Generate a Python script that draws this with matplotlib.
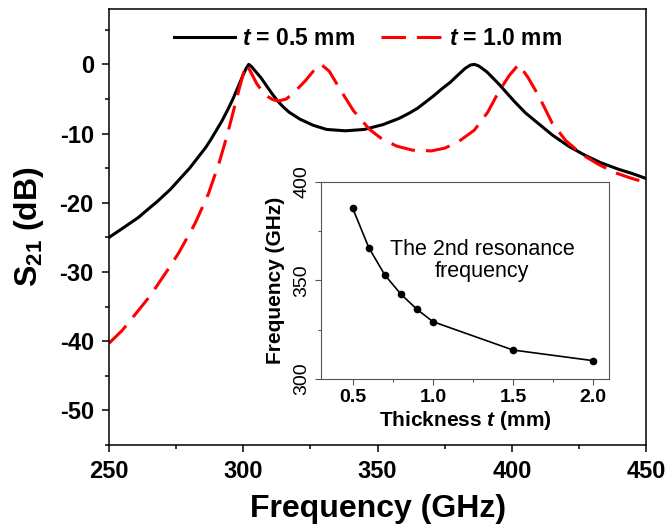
import numpy as np
import matplotlib
matplotlib.use("Agg")
import matplotlib.pyplot as plt
from matplotlib.ticker import MultipleLocator

# S21 spectra (GHz, dB)
freq_05 = [250, 255, 258, 261, 264, 268, 273, 276, 280, 283, 286, 288, 290, 292,
           294, 296, 298, 299.5, 301, 302, 303, 304.5, 306.5, 309, 311, 313, 315,
           317, 321, 326, 331, 338, 345, 352, 358, 362, 365, 368, 371, 374, 377,
           380, 382.5, 384.5, 386, 387.5, 389, 390.7, 393, 395.5, 398, 401, 405,
           410, 415, 421, 427, 433, 440, 445, 450]
s21_05 = [-25.0, -23.7, -22.9, -22.1, -21.1, -19.8, -18.0, -16.7, -15.0, -13.5,
          -12.0, -10.8, -9.5, -8.2, -6.7, -5.1, -3.3, -1.9, -0.6, 0.0, -0.3,
          -1.0, -1.9, -3.3, -4.4, -5.4, -6.2, -6.9, -7.9, -8.8, -9.4, -9.6, -9.4,
          -8.7, -7.8, -7.0, -6.3, -5.4, -4.5, -3.5, -2.6, -1.5, -0.6, -0.1, 0.0,
          -0.2, -0.6, -1.1, -2.0, -3.0, -4.1, -5.4, -7.0, -8.6, -10.2, -11.8,
          -13.1, -14.2, -15.2, -15.8, -16.5]

freq_10 = [250, 255, 260, 265, 268, 272, 276, 282, 287, 291, 294, 296, 298, 300,
           301, 302.5, 305, 308, 311, 313, 316, 319, 323, 326, 329, 332, 336, 341,
           347, 351, 357, 363, 370, 375, 380, 386, 391, 395, 399, 402.5, 406, 410,
           415, 420, 426, 432, 438, 444, 450]
s21_10 = [-40.3, -38.4, -36.0, -33.6, -31.9, -29.6, -27.2, -23.0, -18.7, -14.2,
          -10.2, -7.2, -4.2, -1.3, 0.0, -0.9, -2.8, -4.4, -5.1, -5.3, -5.0, -4.0,
          -2.4, -1.0, 0.0, -1.0, -3.6, -6.7, -9.4, -10.6, -11.8, -12.4, -12.5,
          -12.1, -11.2, -9.5, -6.9, -4.0, -1.6, 0.0, -1.9, -4.6, -8.5, -11.0,
          -13.0, -14.4, -15.6, -16.4, -17.1]

# inset: 2nd resonance vs thickness
thickness = [0.5, 0.6, 0.7, 0.8, 0.9, 1.0, 1.5, 2.0]
res2 = [386.6, 366.7, 352.8, 343.1, 335.4, 329.1, 314.7, 309.3]

plt.rcParams['font.family'] = ['Liberation Sans', 'DejaVu Sans']
plt.rcParams['mathtext.fontset'] = 'custom'
plt.rcParams['mathtext.rm'] = 'Liberation Sans:bold'
plt.rcParams['mathtext.bf'] = 'Liberation Sans:bold'
plt.rcParams['mathtext.it'] = 'Liberation Sans:bold:italic'
plt.rcParams['axes.unicode_minus'] = False

fig = plt.figure(figsize=(6.69, 5.31), dpi=100)
ax = fig.add_axes([0.163, 0.162, 0.803, 0.821])

ax.plot(freq_05, s21_05, color='black', lw=2.2, label=r'$t$ = 0.5 mm')
ax.plot(freq_10, s21_10, color='red', lw=2.2, dashes=(8, 3.6), label=r'$t$ = 1.0 mm')

ax.set_xlim(250, 450)
ax.set_ylim(-55, 8)
ax.xaxis.set_major_locator(MultipleLocator(50))
ax.xaxis.set_minor_locator(MultipleLocator(25))
ax.yaxis.set_major_locator(MultipleLocator(10))
ax.yaxis.set_minor_locator(MultipleLocator(5))
ax.set_yticks([0, -10, -20, -30, -40, -50])
ax.tick_params(which='major', direction='out', length=5, width=1.1, labelsize=17, pad=6)
ax.tick_params(which='minor', direction='out', length=3, width=1.1)
for lab in ax.get_xticklabels() + ax.get_yticklabels():
    lab.set_fontweight('bold')
for sp in ax.spines.values():
    sp.set_linewidth(1.1)

ax.set_xlabel('Frequency (GHz)', fontsize=23, fontweight='bold', labelpad=8)
ax.set_ylabel(r'S$_{21}$ (dB)', fontsize=23, fontweight='bold', labelpad=10)

leg = ax.legend(loc='upper center', ncol=2, frameon=False,
                handlelength=2.7, handletextpad=0.3, columnspacing=1.1,
                bbox_to_anchor=(0.482, 1.005), prop={'weight': 'bold', 'size': 16.5})

# inset
ins = fig.add_axes([0.4794, 0.2863, 0.431, 0.371])
ins.plot(thickness, res2, color='black', lw=1.2, marker='o', markersize=4.5)
ins.set_xlim(0.3, 2.1)
ins.set_ylim(300, 400)
ins.xaxis.set_major_locator(MultipleLocator(0.5))
ins.xaxis.set_minor_locator(MultipleLocator(0.25))
ins.yaxis.set_major_locator(MultipleLocator(50))
ins.yaxis.set_minor_locator(MultipleLocator(25))
ins.set_xticks([0.5, 1.0, 1.5, 2.0])
ins.set_xticklabels(['0.5', '1.0', '1.5', '2.0'], fontweight='bold', fontsize=14)
ins.tick_params(axis='y', labelsize=14, labelrotation=90)
ins.tick_params(which='major', direction='out', length=4, width=0.8, color='#555555')
ins.tick_params(which='minor', direction='out', length=2.5, width=0.8, color='#555555')
for lab in ins.get_yticklabels():
    lab.set_va('center')
for sp in ins.spines.values():
    sp.set_color('#555555')
    sp.set_linewidth(0.8)
ins.set_xlabel(r'Thickness $t$ (mm)', fontsize=15, fontweight='bold', labelpad=2)
ins.set_ylabel('Frequency (GHz)', fontsize=15, fontweight='bold', labelpad=6)
ins.text(0.56, 0.60, 'The 2nd resonance\nfrequency', transform=ins.transAxes,
         ha='center', va='center', fontsize=15.5, linespacing=1.05)

fig.savefig('out.png', dpi=100)
